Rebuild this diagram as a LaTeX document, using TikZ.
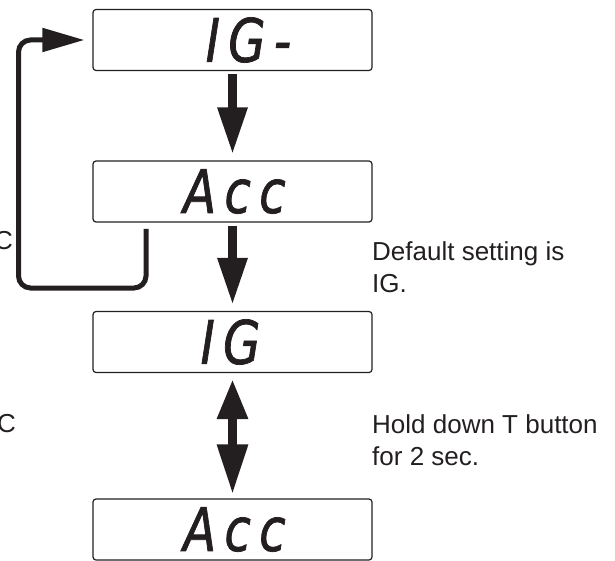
\documentclass[tikz,border=0pt]{standalone}
\usepackage{fontspec}
\setmainfont{Liberation Sans}
\newfontfamily\lcdfont[FakeStretch=0.8,FakeBold=1.2,LetterSpace=14]{DejaVu Sans}
\usetikzlibrary{arrows.meta}
\definecolor{ink}{HTML}{231F20}

\begin{document}
\begin{tikzpicture}[x=1pt, y=-1pt, ink,
    lcdbox/.style={draw, rounded corners=3pt, line width=1.2pt, minimum width=279pt, minimum height=61pt, inner sep=0pt},
    lcd/.style={font=\lcdfont\itshape\fontsize{60}{60}\selectfont, inner sep=0pt},
    note/.style={font=\fontsize{26}{32}\selectfont, align=left, anchor=base west, inner sep=0pt},
    cut/.style={font=\fontsize{26}{32}\selectfont, anchor=base east, inner sep=0pt},
    bigarrow/.style={line width=9pt, -{Triangle[length=47pt, width=28pt]}},
    looparrow/.style={line width=5pt, rounded corners=12pt, -{Triangle[length=42pt, width=23pt]}}]
    \clip (0,0) rectangle (615,561);
    % Afficheurs
    \node[lcdbox] (ig1) at (232.5,40) {};
    \node[lcdbox] (acc1) at (232.5,191.5) {};
    \node[lcdbox] (ig2) at (232.5,342) {};
    \node[lcdbox] (acc2) at (232.5,529.5) {};
    % Textes des afficheurs
    \node[lcd] (ig1txt) at ([xshift=16pt]ig1.center) {IG-};
    \node[lcd] (acc1txt) at ([xshift=2pt]acc1.center) {Acc};
    \node[lcd] (ig2txt) at ([xshift=-2pt]ig2.center) {IG};
    \node[lcd] (acc2txt) at ([xshift=2pt]acc2.center) {Acc};
    % Fleches
    \draw[bigarrow, shorten <=3pt, shorten >=6pt] (ig1) -- (acc1);
    \draw[bigarrow, shorten <=3pt, shorten >=6pt] (acc1) -- (ig2);
    \draw[line width=9pt, {Triangle[length=40pt, width=29pt]}-{Triangle[length=50pt, width=29pt]},
        shorten <=6pt, shorten >=4pt] (ig2) -- (acc2);
    % Retour
    \coordinate (loopstart) at (146,229);
    \coordinate (loopcorner) at (18.5,288);
    \draw[looparrow, shorten >=8pt] (loopstart) |- (loopcorner) |- (ig1.west);
    % Notes
    \node[note] (note1) at (372,292) {Default setting is\\IG.};
    \node[note] (note2) at (372,465) {Hold down T button\\for 2 sec.};
    % Bords coupes
    \node[cut] (cut1) at (13,250) {C};
    \node[cut] (cut2) at (16,432) {C};
\end{tikzpicture}
\end{document}
